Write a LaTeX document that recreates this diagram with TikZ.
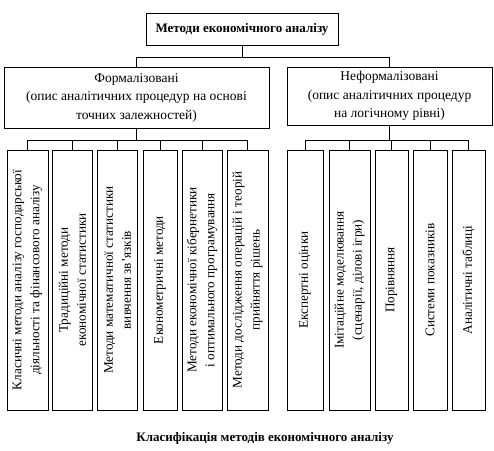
\documentclass[tikz,border=0pt]{standalone}
\usepackage{fontspec}
\setmainfont{Liberation Serif}
\usetikzlibrary{shapes,positioning,calc,shadows}

\tikzset{
  boxshadow/.style={drop shadow={shadow xshift=0.9pt, shadow yshift=-0.9pt, opacity=1, fill=black}},
  headbox/.style={draw, fill=white, line width=0.6pt, boxshadow, align=center, inner sep=1pt, font=\fontsize{13.5}{18.5}\selectfont},
  methbox/.style={draw, fill=white, line width=0.6pt, boxshadow, rotate=90, minimum width=260pt, minimum height=#1, align=center, inner sep=0.5pt, font=\fontsize{13.2}{18}\selectfont},
  link/.style={line width=0.6pt}
}

\begin{document}
\begin{tikzpicture}[x=1pt, y=-1pt]
    \useasboundingbox (0,0) rectangle (494,450);
    \node[headbox, minimum width=192pt, minimum height=32pt, font=\bfseries\fontsize{13}{18}\selectfont] (root) at (242,29) {Методи економічного аналізу};
    \node[headbox, minimum width=265pt, minimum height=61pt] (formal) at (136.5,97.5) {Формалізовані\\(опис аналітичних процедур на основі\\точних залежностей)};
    \node[headbox, minimum width=205pt, minimum height=58pt] (informal) at (389.5,96) {Неформалізовані\\(опис аналітичних процедур\\на логічному рівні)};

    \node[methbox=41pt] (b1) at (27.5,280) {Класичні методи аналізу господарської\\діяльності та фінансового аналізу};
    \node[methbox=40pt] (b2) at (72.5,280) {Традиційні методи\\економічної статистики};
    \node[methbox=40pt] (b3) at (117.5,280) {Методи математичної статистики\\вивчення зв’язків};
    \node[methbox=34pt] (b4) at (160,280) {Економетричні методи};
    \node[methbox=40pt] (b5) at (202,280) {Методи економічної кібернетики\\і оптимального програмування};
    \node[methbox=41pt] (b6) at (247.5,280) {Методи дослідження операцій і теорій\\прийняття рішень};

    \node[methbox=36pt] (b7) at (305,280) {Експертні оцінки};
    \node[methbox=41pt] (b8) at (349.5,280) {Імітаційне моделювання\\(сценарії, ділові ігри)};
    \node[methbox=33pt] (b9) at (391.5,280) {Порівняння};
    \node[methbox=34pt] (b10) at (430,280) {Системи показників};
    \node[methbox=33pt] (b11) at (468.5,280) {Аналітичні таблиці};

    \draw[link] (root.south) -- ++(0,12) coordinate (rj);
    \draw[link] (rj) -| (formal.north);
    \draw[link] (rj) -| (informal.north);
    \draw[link] (formal.south) -- ++(0,12) coordinate (fj);
    \draw[link] (informal.south) -- ++(0,15) coordinate (ij);
    \foreach \b in {b1,b2,b3,b4,b5,b6}
        \draw[link] (fj) -| (\b.east);
    \foreach \b in {b7,b8,b9,b10,b11}
        \draw[link] (ij) -| (\b.east);

    \node[font=\bfseries\fontsize{13}{15}\selectfont] (caption) at (265,438) {Класифікація методів економічного аналізу};
\end{tikzpicture}
\end{document}
